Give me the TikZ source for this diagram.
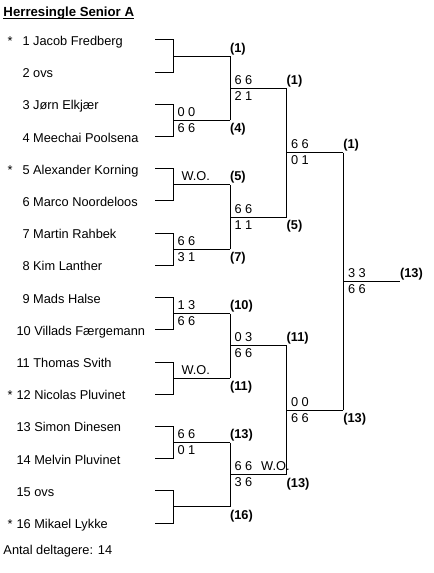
\documentclass[tikz,border=0pt]{standalone}
\usepackage{fontspec}
\setmainfont{Liberation Sans}

\begin{document}
\begin{tikzpicture}[x=0.75pt,y=0.75pt,line width=0.75pt,font=\fontsize{9.6}{11.5}\selectfont]
\tikzset{
    plr/.style={anchor=base west, inner sep=0pt},
    seedmark/.style={anchor=base west, inner sep=0pt},
    score/.style={anchor=base west, inner sep=0pt},
    winlbl/.style={anchor=base west, inner sep=0pt, font=\fontsize{9.6}{11.5}\selectfont\bfseries}
}
\useasboundingbox (0,0) rectangle (434,-573);

% --- title and footer ---
\node[plr, font=\fontsize{9.9}{12}\selectfont\bfseries] (title) at (3,-16.1) {\underline{\smash{Herresingle Senior A}}};
\node[plr] (antal) at (3,-554) {Antal deltagere: 14};

% --- players ---
\node[seedmark] (st1) at (7,-45.5) {*};
\node[plr] (p1) at (22,-45.5) {1 Jacob Fredberg};
\node[plr] (p2) at (22,-77.7) {2 ovs};
\node[plr] (p3) at (22,-109.9) {3 Jørn Elkjær};
\node[plr] (p4) at (22,-142.1) {4 Meechai Poolsena};
\node[seedmark] (st5) at (7,-174.3) {*};
\node[plr] (p5) at (22,-174.3) {5 Alexander Korning};
\node[plr] (p6) at (22,-206.5) {6 Marco Noordeloos};
\node[plr] (p7) at (22,-238.7) {7 Martin Rahbek};
\node[plr] (p8) at (22,-270.9) {8 Kim Lanther};
\node[plr] (p9) at (22,-303.1) {9 Mads Halse};
\node[plr] (p10) at (16,-335.3) {10 Villads Færgemann};
\node[plr] (p11) at (16,-367.5) {11 Thomas Svith};
\node[seedmark] (st12) at (7,-399.7) {*};
\node[plr] (p12) at (16,-399.7) {12 Nicolas Pluvinet};
\node[plr] (p13) at (16,-431.9) {13 Simon Dinesen};
\node[plr] (p14) at (16,-464.1) {14 Melvin Pluvinet};
\node[plr] (p15) at (16,-496.3) {15 ovs};
\node[seedmark] (st16) at (7,-528.5) {*};
\node[plr] (p16) at (16,-528.5) {16 Mikael Lykke};

% --- bracket points ---
\coordinate (a1) at (155,-40);
\coordinate (a2) at (155,-72.2);
\coordinate (a3) at (155,-104.4);
\coordinate (a4) at (155,-136.6);
\coordinate (a5) at (155,-168.8);
\coordinate (a6) at (155,-201);
\coordinate (a7) at (155,-233.2);
\coordinate (a8) at (155,-265.4);
\coordinate (a9) at (155,-297.6);
\coordinate (a10) at (155,-329.8);
\coordinate (a11) at (155,-362);
\coordinate (a12) at (155,-394.2);
\coordinate (a13) at (155,-426.4);
\coordinate (a14) at (155,-458.6);
\coordinate (a15) at (155,-490.8);
\coordinate (a16) at (155,-523);

\coordinate (k1) at (173.3,-56.1);
\coordinate (k2) at (173.3,-120.5);
\coordinate (k3) at (173.3,-184.9);
\coordinate (k4) at (173.3,-249.3);
\coordinate (k5) at (173.3,-313.7);
\coordinate (k6) at (173.3,-378.1);
\coordinate (k7) at (173.3,-442.5);
\coordinate (k8) at (173.3,-506.9);

\coordinate (b1) at (230.3,-56.1);
\coordinate (b2) at (230.3,-120.5);
\coordinate (b3) at (230.3,-184.9);
\coordinate (b4) at (230.3,-249.3);
\coordinate (b5) at (230.3,-313.7);
\coordinate (b6) at (230.3,-378.1);
\coordinate (b7) at (230.3,-442.5);
\coordinate (b8) at (230.3,-506.9);

\coordinate (c1) at (286.7,-88.3);
\coordinate (c2) at (286.7,-217.1);
\coordinate (c3) at (286.7,-345.9);
\coordinate (c4) at (286.7,-474.7);

\coordinate (d1) at (343.3,-152.7);
\coordinate (d2) at (343.3,-410.3);

\coordinate (e) at (400,-281.5);

% --- round 1 ---
\draw (a1) -| (k1) |- (a2) (k1) -- (b1);
\draw (a3) -| (k2) |- (a4) (k2) -- (b2);
\draw (a5) -| (k3) |- (a6) (k3) -- (b3);
\draw (a7) -| (k4) |- (a8) (k4) -- (b4);
\draw (a9) -| (k5) |- (a10) (k5) -- (b5);
\draw (a11) -| (k6) |- (a12) (k6) -- (b6);
\draw (a13) -| (k7) |- (a14) (k7) -- (b7);
\draw (a15) -| (k8) |- (a16) (k8) -- (b8);

% --- round 2, 3 and final ---
\draw (b1) |- (c1) (b2) |- (c1);
\draw (b3) |- (c2) (b4) |- (c2);
\draw (b5) |- (c3) (b6) |- (c3);
\draw (b7) |- (c4) (b8) |- (c4);
\draw (c1) |- (d1) (c2) |- (d1);
\draw (c3) |- (d2) (c4) |- (d2);
\draw (d1) |- (e) (d2) |- (e);

% --- scores ---
\node[score] (r1s2a) at (177,-116.5) {0 0};
\node[score] (r1s2b) at (177,-132.5) {6 6};
\node[score] (r1s3a) at (181,-180.9) {W.O.};
\node[score] (r1s4a) at (177,-245.3) {6 6};
\node[score] (r1s4b) at (177,-261.3) {3 1};
\node[score] (r1s5a) at (177,-309.7) {1 3};
\node[score] (r1s5b) at (177,-325.7) {6 6};
\node[score] (r1s6a) at (181,-374.1) {W.O.};
\node[score] (r1s7a) at (177,-438.5) {6 6};
\node[score] (r1s7b) at (177,-454.5) {0 1};

\node[score] (r2s1a) at (234,-84.3) {6 6};
\node[score] (r2s1b) at (234,-100.3) {2 1};
\node[score] (r2s2a) at (234,-213.1) {6 6};
\node[score] (r2s2b) at (234,-229.1) {1 1};
\node[score] (r2s3a) at (234,-341.9) {0 3};
\node[score] (r2s3b) at (234,-357.9) {6 6};
\node[score] (r2s4a) at (234,-470.7) {6 6\hspace{0.7em}W.O.};
\node[score] (r2s4b) at (234,-486.7) {3 6};

\node[score] (r3s1a) at (290.5,-148.7) {6 6};
\node[score] (r3s1b) at (290.5,-164.7) {0 1};
\node[score] (r3s2a) at (290.5,-406.3) {0 0};
\node[score] (r3s2b) at (290.5,-422.3) {6 6};

\node[score] (fsa) at (347.5,-277.5) {3 3};
\node[score] (fsb) at (347.5,-293.5) {6 6};

% --- winners ---
\node[winlbl] (w1) at (229.5,-52.1) {(1)};
\node[winlbl] (w2) at (229.5,-132.8) {(4)};
\node[winlbl] (w3) at (229.5,-180.9) {(5)};
\node[winlbl] (w4) at (229.5,-261.6) {(7)};
\node[winlbl] (w5) at (229.5,-309.7) {(10)};
\node[winlbl] (w6) at (229.5,-390.4) {(11)};
\node[winlbl] (w7) at (229.5,-438.5) {(13)};
\node[winlbl] (w8) at (229.5,-519.2) {(16)};

\node[winlbl] (v1) at (286.2,-84.3) {(1)};
\node[winlbl] (v2) at (286.2,-229.4) {(5)};
\node[winlbl] (v3) at (286.2,-341.9) {(11)};
\node[winlbl] (v4) at (286.2,-487) {(13)};

\node[winlbl] (u1) at (342.8,-148.7) {(1)};
\node[winlbl] (u2) at (342.8,-422.6) {(13)};

\node[winlbl] (champ) at (399.5,-277.5) {(13)};
\end{tikzpicture}
\end{document}
